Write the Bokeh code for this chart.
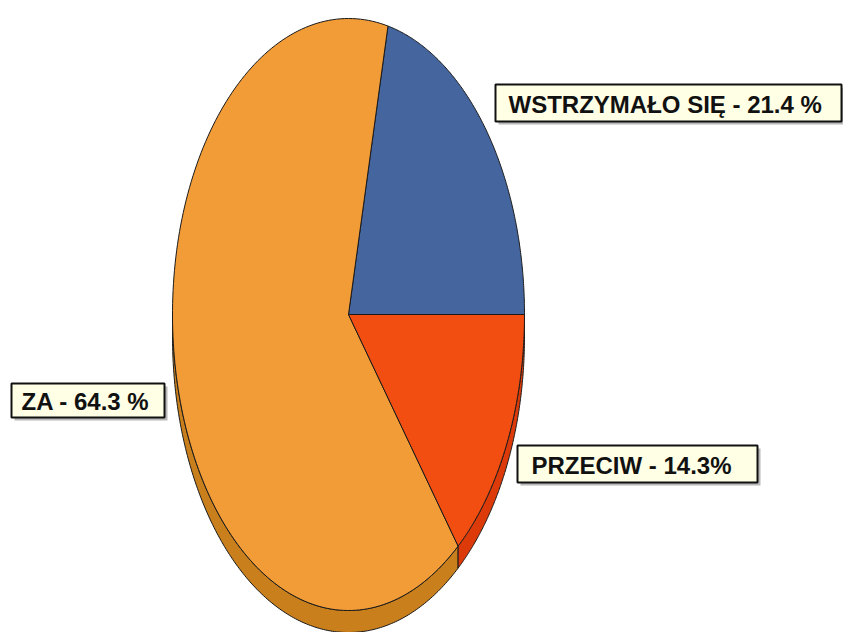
import numpy as np
from bokeh.plotting import figure
from bokeh.embed import file_html
from bokeh.resources import INLINE
from bokeh.core.properties import value

CATEGORIES = ["WSTRZYMAŁO SIĘ", "ZA", "PRZECIW"]
SHARES = [21.4, 64.3, 14.3]
TEXTS = ["WSTRZYMAŁO SIĘ - 21.4 %", "ZA - 64.3 %", "PRZECIW - 14.3%"]
TOP_COLORS = ["#44659E", "#F29C38", "#F24E12"]
WALL_COLORS = ["#2F4A78", "#C97F1C", "#DC3A08"]

# layout, in reference pixels
CX, CY, RX, RY, DEPTH = 348, 314, 176, 296, 22
BOXES = [(495, 841, 84, 121), (11, 164, 383, 417), (517, 757, 445, 482)]
TEXT_X = [508, 21, 531]
OUTLINE = "#1a1a1a"

p = figure(width=843, height=632, output_backend="svg", toolbar_location=None,
           x_range=(0, 843), y_range=(632, 0), min_border=0,
           background_fill_color="white", border_fill_color="white")
p.axis.visible = False
p.grid.visible = False
p.outline_line_color = None

edges = np.cumsum([0] + SHARES) / sum(SHARES) * 2 * np.pi


def arc(a, b, dy=0):
    t = np.linspace(a, b, 180)
    return CX + RX * np.cos(t), CY - RY * np.sin(t) + dy


# side wall: only the part of each slice facing the viewer (lower half)
for i in range(len(SHARES)):
    a = max(edges[i], np.pi)
    b = edges[i + 1]
    if b <= a:
        continue
    x1, y1 = arc(a, b)
    x2, y2 = arc(b, a, DEPTH)
    p.patch(np.r_[x1, x2], np.r_[y1, y2], fill_color=WALL_COLORS[i],
            line_color=OUTLINE, line_width=1)

# top face
for i in range(len(SHARES)):
    x, y = arc(edges[i], edges[i + 1])
    p.patch(np.r_[CX, x], np.r_[CY, y], fill_color=TOP_COLORS[i],
            line_color=OUTLINE, line_width=1)

# labels
for (l, r, t, b), tx, s in zip(BOXES, TEXT_X, TEXTS):
    p.quad(left=l + 3, right=r + 3, top=t + 3, bottom=b + 3,
           fill_color="#9a9a9a", fill_alpha=0.7, line_color=None)
    p.quad(left=l, right=r, top=t, bottom=b, fill_color="#FFFFE6",
           line_color="#111111", line_width=2)
    p.text([tx], [(t + b) / 2 + 1], text=[s], text_font=value("Liberation Sans"),
           text_font_style="bold", text_font_size="24px", text_color="#111111",
           text_baseline="middle", text_align="left")

open("out.html", "w").write(file_html(p, INLINE))
